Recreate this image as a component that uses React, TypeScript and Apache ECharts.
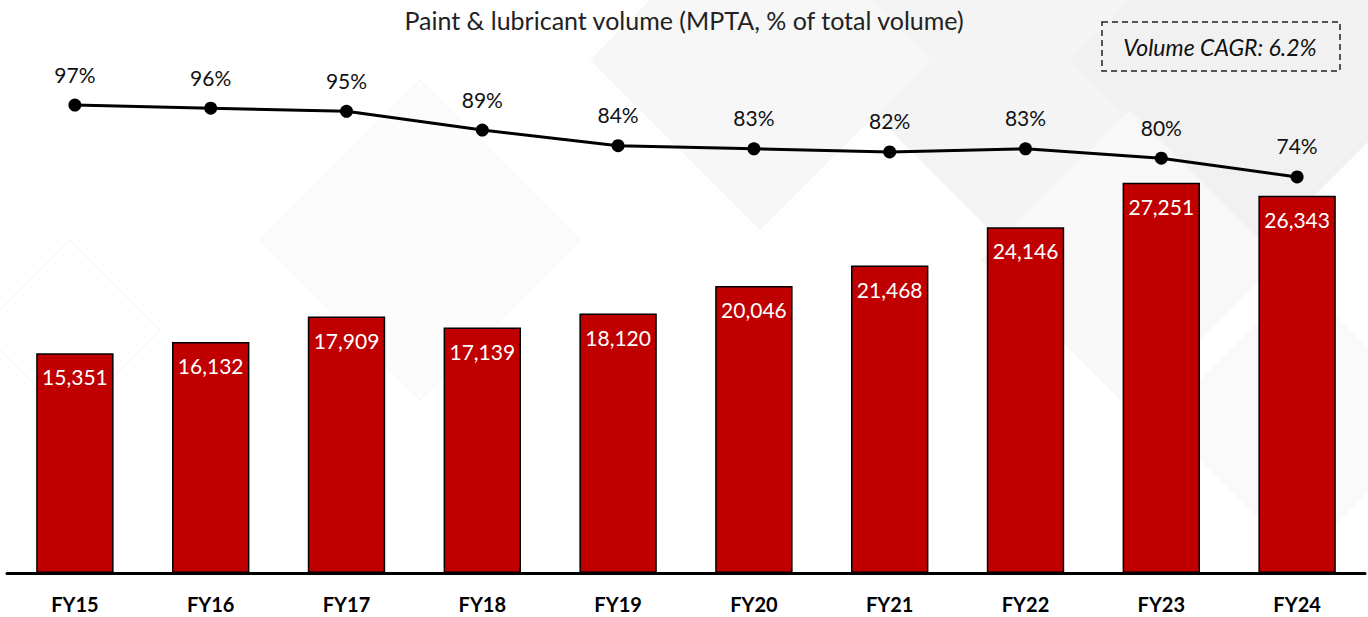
import React, { useEffect, useRef } from "react";
import * as echarts from "echarts";

const categories = ["FY15", "FY16", "FY17", "FY18", "FY19", "FY20", "FY21", "FY22", "FY23", "FY24"];
const volumes = [15351, 16132, 17909, 17139, 18120, 20046, 21468, 24146, 27251, 26343];
const sharePct = [97, 96, 95, 89, 84, 83, 82, 83, 80, 74];
const titleText = "Paint & lubricant volume (MPTA, % of total volume)";
const cagrText = "Volume CAGR: 6.2%";

const FONT = "Lato, 'Open Sans', sans-serif";

export default function App() {
  const ref = useRef<HTMLDivElement>(null);
  useEffect(() => {
    document.body.style.margin = "0";
    if (!ref.current) return;
    const chart = echarts.init(ref.current, null, { renderer: "svg" });
    const diamond = (cx: number, cy: number, r: number, fill: string, stroke?: string) => ({
      type: "polygon",
      z: -10,
      silent: true,
      shape: { points: [[cx, cy - r], [cx + r, cy], [cx, cy + r], [cx - r, cy]] },
      style: { fill, stroke: stroke || "none", lineWidth: 1 },
    });
    chart.setOption({
      animation: false,
      backgroundColor: "#ffffff",
      textStyle: { fontFamily: FONT },
      title: {
        text: titleText,
        left: "center",
        top: 2,
        textStyle: { fontFamily: FONT, fontSize: 25, fontWeight: "normal", color: "#222" },
      },
      graphic: [
        diamond(1000, 40, 200, "#f4f4f4"),
        diamond(1260, 60, 190, "#f1f1f1"),
        diamond(760, 60, 170, "#f7f7f7"),
        diamond(1130, 260, 150, "#f8f8f8"),
        diamond(420, 240, 160, "#fcfcfc", "#f3f3f3"),
        diamond(70, 330, 90, "#ffffff", "#f0f0f0"),
        diamond(1300, 420, 140, "#fafafa"),
        {
          type: "rect",
          shape: { x: 1102, y: 22, width: 238, height: 49 },
          style: { fill: "none", stroke: "#222", lineWidth: 1.5, lineDash: [6, 4] },
        },
        {
          type: "text",
          x: 1220,
          y: 47,
          style: {
            text: cagrText,
            fontFamily: FONT,
            fontSize: 23,
            fontStyle: "italic",
            fill: "#111",
            textAlign: "center",
            textVerticalAlign: "middle",
          },
        },
      ],
      grid: [
        { left: 7, right: 3, top: 143.4, bottom: 44 },
        { left: 7, right: 3, top: 80, bottom: 411.85 },
      ],
      xAxis: [
        {
          type: "category",
          data: categories,
          gridIndex: 0,
          axisLine: { lineStyle: { color: "#000", width: 3 } },
          axisTick: { show: false },
          axisLabel: { color: "#000", fontFamily: FONT, fontSize: 20, fontWeight: "bold", margin: 21 },
        },
        {
          type: "category",
          data: categories,
          gridIndex: 1,
          show: false,
        },
      ],
      yAxis: [
        { type: "value", gridIndex: 0, min: 0, max: 30000, show: false, splitLine: { show: false } },
        { type: "value", gridIndex: 1, min: 65, max: 105, show: false, splitLine: { show: false } },
      ],
      series: [
        {
          type: "bar",
          xAxisIndex: 0,
          yAxisIndex: 0,
          data: volumes,
          barCategoryGap: "43%",
          itemStyle: { color: "#C00000", borderColor: "#000", borderWidth: 1.5 },
          label: {
            show: true,
            position: "insideTop",
            distance: 13,
            color: "#fff",
            fontFamily: FONT,
            fontSize: 21,
            formatter: (p: any) => Number(p.value).toLocaleString("en-US"),
          },
        },
        {
          type: "line",
          xAxisIndex: 1,
          yAxisIndex: 1,
          data: sharePct,
          clip: false,
          symbol: "circle",
          symbolSize: 13,
          lineStyle: { color: "#000", width: 3 },
          itemStyle: { color: "#000" },
          label: {
            show: true,
            position: "top",
            distance: 14,
            color: "#111",
            fontFamily: FONT,
            fontSize: 21,
            formatter: (p: any) => p.value + "%",
          },
        },
      ],
    });
    return () => chart.dispose();
  }, []);
  return <div ref={ref} style={{ width: 1368, height: 617 }} />;
}
